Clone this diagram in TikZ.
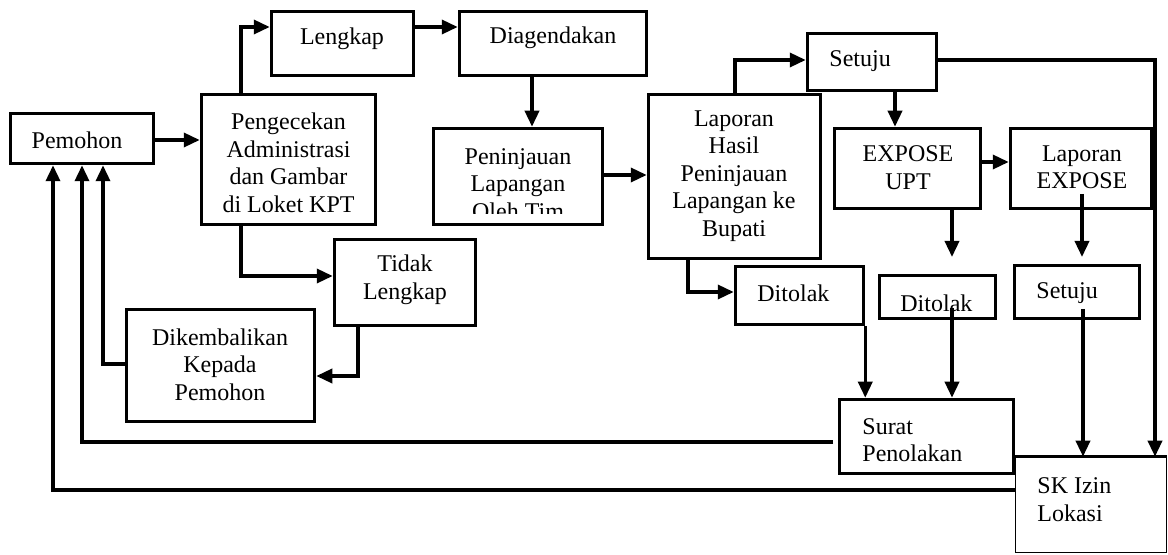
\documentclass[tikz,border=0pt]{standalone}
\usepackage{fontspec}
\setmainfont{Liberation Serif}
\usetikzlibrary{arrows.meta}
\begin{document}
\begin{tikzpicture}[x=0.5pt,y=-0.5pt,
  bx/.style 2 args={draw,line width=1.75pt,inner sep=0pt,
    minimum width=#1*0.5pt,minimum height=#2*0.5pt},
  txt/.style={font=\fontsize{12pt}{13.75pt}\selectfont,align=center,inner sep=0pt},
  ln/.style={line width=1.75pt,line join=miter},
  arr/.style={ln,-{Triangle[length=8pt,width=7pt]}}]
\useasboundingbox (0,0) rectangle (1168,555);

% boxes
\node[bx={143}{50}]  (pem)     at (82,138.5)   {};
\node[bx={174}{130}] (cek)     at (288.5,159.5) {};
\node[bx={142}{64}]  (lengkap) at (342.5,43.5) {};
\node[bx={187}{64}]  (agenda)  at (553,43.5)   {};
\node[bx={169}{96}]  (tinjau)  at (518,176.5)  {};
\node[bx={172}{164}] (lapor)   at (734.5,176.5) {};
\node[bx={129}{57}]  (setujuA) at (872,62)     {};
\node[bx={146}{80}]  (expose)  at (907.5,168.5) {};
\node[bx={141}{80}]  (lapexp)  at (1081,168.5) {};
\node[bx={141}{86}]  (tidak)   at (405,282.5)  {};
\node[bx={188}{112}] (kembali) at (220.5,365.5) {};
\node[bx={128}{58}]  (tolakA)  at (799.5,295.5) {};
\node[bx={116}{43}]  (tolakB)  at (937.5,297)  {};
\node[bx={125}{53}]  (setujuB) at (1077,292)   {};
\node[bx={174}{74}]  (surat)   at (926.5,436.5) {};
\node[bx={151}{95},line width=0.8pt] (sk) at (1091,505) {};
\draw[ln] (sk.north west) -- (sk.north east);

% texts
\node[txt] at (77,140) {Pemohon};
\node[txt] at (288.5,163) {Pengecekan\\Administrasi\\dan Gambar\\di Loket KPT};
\node[txt] at (342,39) {Lengkap};
\node[txt] at (553,38) {Diagendakan};
\begin{scope}
  \clip (432,127) rectangle (604,214);
  \node[txt] at (518,184) {Peninjauan\\Lapangan\\Oleh Tim};
\end{scope}
\node[txt] at (734,176) {Laporan\\Hasil\\Peninjauan\\Lapangan ke\\Bupati};
\node[txt,anchor=west] at (829,61) {Setuju};
\node[txt] at (908,167.5) {EXPOSE\\UPT};
\node[txt] at (1082,167.5) {Laporan\\EXPOSE};
\node[txt] at (405,280) {Tidak\\Lengkap};
\node[txt] at (220,364.5) {Dikembalikan\\Kepada\\Pemohon};
\node[txt,anchor=west] at (757,293) {Ditolak};
\node[txt,anchor=west] at (900,303) {Ditolak};
\node[txt,anchor=west] at (1036,293) {Setuju};
\node[txt,anchor=west,align=left] at (862,440) {Surat\\Penolakan};
\node[txt,anchor=west,align=left] at (1037,499.5) {SK Izin\\Lokasi};

% bend points and free ends of connectors
\coordinate (c1) at (241,27);
\coordinate (c2) at (532,0);
\coordinate (c3) at (0,175);
\coordinate (c4) at (735,60);
\coordinate (c5) at (895,0);
\coordinate (c6) at (1155,0);
\coordinate (c7) at (0,162);
\coordinate (c8) at (952,257);
\coordinate (c9) at (1082,194);
\coordinate (c10) at (1082,257);
\coordinate (c11) at (688,292);
\coordinate (c12) at (952,308);
\coordinate (c13) at (1083,309);
\coordinate (c14) at (833,442);
\coordinate (c15) at (82,0);
\coordinate (c16) at (53,490);
\coordinate (c17) at (103,364);
\coordinate (c18) at (241,276);
\coordinate (c19) at (358,376);
\coordinate (c20) at (0,140);

% connectors
\draw[arr] (pem.east |- c20) -- (cek.west |- c20);
\draw[arr] (cek.north -| c1) |- (lengkap.west |- c1);
\draw[arr] (lengkap.east |- c1) -- (agenda.west |- c1);
\draw[arr] (agenda.south -| c2) -- (tinjau.north -| c2);
\draw[arr] (tinjau.east |- c3) -- (lapor.west |- c3);
\draw[arr] (lapor.north -| c4) |- (setujuA.west |- c4);
\draw[arr] (setujuA.south -| c5) -- (expose.north -| c5);
\draw[arr] (setujuA.east |- c4) -| (sk.north -| c6);
\draw[arr] (expose.east |- c7) -- (lapexp.west |- c7);
\draw[arr] (expose.south -| c8) -- (c8);
\draw[arr] (c9) -- (c10);
\draw[arr] (lapor.south -| c11) |- (tolakA.west |- c11);
\draw[arr] (tolakA.south east) -- (tolakA.south east |- surat.north);
\draw[arr] (c12) -- (c12 |- surat.north);
\draw[arr] (c13) -- (c13 |- sk.north);
\draw[arr] (c14) -| (pem.south -| c15);
\draw[arr] (sk.west |- c16) -| (pem.south -| c16);
\draw[arr] (kembali.west |- c17) -| (pem.south -| c17);
\draw[arr] (cek.south -| c18) |- (tidak.west |- c18);
\draw[arr] (tidak.south -| c19) |- (kembali.east |- c19);
\end{tikzpicture}
\end{document}
